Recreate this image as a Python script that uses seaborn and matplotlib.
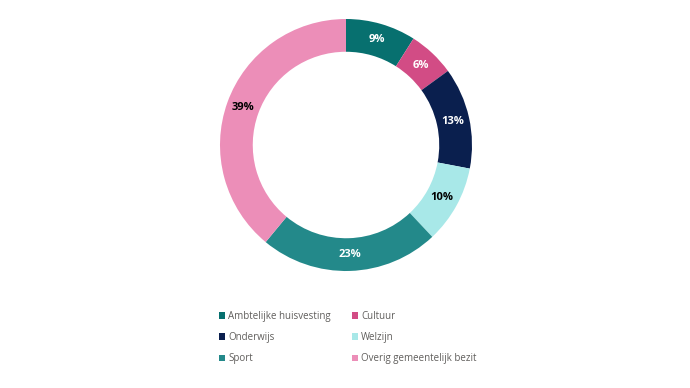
import matplotlib
matplotlib.use("Agg")
import matplotlib.pyplot as plt
import seaborn as sns

categories = ["Ambtelijke huisvesting", "Cultuur", "Onderwijs", "Welzijn", "Sport", "Overig gemeentelijk bezit"]
values = [9, 6, 13, 10, 23, 39]
colors = ["#07706F", "#D24C85", "#0A1F4E", "#A8E8E8", "#23898A", "#EC8EB8"]
label_colors = ["white", "white", "white", "black", "white", "black"]

sns.set_theme(style="white")
plt.rcParams["font.family"] = ["Open Sans", "DejaVu Sans"]

fig = plt.figure(figsize=(6.9, 3.88), dpi=100)
fig.patch.set_facecolor("white")
ax = fig.add_axes([(346 - 126) / 690, (388 - 145 - 126) / 388, 252 / 690, 252 / 388])

wedges, texts, autotexts = ax.pie(
    values, colors=colors, startangle=90, counterclock=False,
    radius=1, wedgeprops=dict(width=0.26, linewidth=0),
    autopct=lambda p: f"{p:.0f}%", pctdistance=0.87,
)
for t, c in zip(autotexts, label_colors):
    t.set_color(c)
    t.set_fontsize(8)
    t.set_fontweight("bold")
ax.set_xlim(-1, 1)
ax.set_ylim(-1, 1)
ax.set_aspect("equal")
ax.axis("off")

# legend filled row by row (two columns)
order = [0, 2, 4, 1, 3, 5]
leg = fig.legend(
    [wedges[i] for i in order], [categories[i] for i in order],
    ncol=2, loc="upper left",
    bbox_to_anchor=(210 / 690, 1 - 302 / 388), frameon=False,
    handlelength=0.65, handleheight=0.65, handletextpad=0.3,
    columnspacing=2.2, labelspacing=1.06,
    prop={"family": ["Open Sans", "DejaVu Sans"], "size": 7},
)
for t in leg.get_texts():
    t.set_color("#605E5C")

fig.savefig("out.png", dpi=100, facecolor="white")
